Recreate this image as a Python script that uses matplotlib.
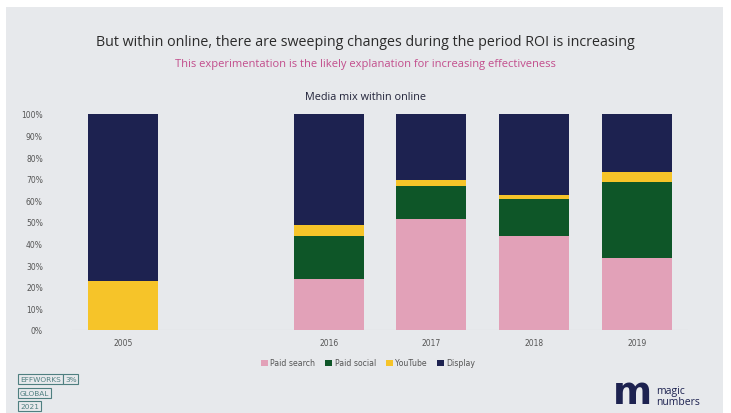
import numpy as np
import matplotlib.pyplot as plt
from matplotlib.patches import Rectangle

# Share of online spend by channel (%), per year
years = ["2005", "", "2016", "2017", "2018", "2019"]
paid_search = np.array([0, 0, 23.5, 51.5, 43.5, 33.5])
paid_social = np.array([0, 0, 20, 15, 17, 35])
youtube = np.array([22.5, 0, 5, 3, 2, 4.5])
display = np.array([77.5, 0, 51.5, 30.5, 37.5, 27])
has_bar = np.array([1, 0, 1, 1, 1, 1], dtype=bool)

series = [("Paid search", paid_search, "#e2a1b8"),
          ("Paid social", paid_social, "#0e5628"),
          ("YouTube", youtube, "#f6c429"),
          ("Display", display, "#1d2250")]

bg = "#e7e9ec"
fig = plt.figure(figsize=(7.31, 4.14), dpi=100, facecolor="white")
fig.patches.append(Rectangle((6 / 731, 0), 717 / 731, 1 - 8 / 414,
                             transform=fig.transFigure, facecolor=bg,
                             edgecolor="none", zorder=-10))

ax = fig.add_axes([72 / 731, 1 - 331 / 414, 616 / 731, 216 / 414])
ax.patch.set_alpha(0)

x = np.arange(len(years))
bottom = np.zeros(len(years))
for name, vals, color in series:
    ax.bar(x[has_bar], vals[has_bar], width=0.68, bottom=bottom[has_bar],
           color=color, label=name, zorder=3)
    bottom += vals

ax.set_xlim(-0.5, 5.5)
ax.set_ylim(0, 100)
ax.set_yticks(np.arange(0, 101, 10))
ax.set_yticklabels([f"{v}%" for v in range(0, 101, 10)])
ax.set_xticks(x[has_bar])
ax.set_xticklabels([y for y, b in zip(years, has_bar) if b])
ax.tick_params(axis="both", length=0, labelsize=5.5, colors="#555555")
ax.tick_params(axis="y", pad=21)
ax.tick_params(axis="x", pad=6)
for s in ax.spines.values():
    s.set_visible(False)
ax.axhline(0, color="#cfd2d6", lw=0.8, zorder=2)

fig.text(0.5, 1 - 42 / 414, "But within online, there are sweeping changes during the period ROI is increasing",
         ha="center", va="center", fontsize=10.3, color="#2b2b2b", family="Open Sans")
fig.text(0.5, 1 - 65 / 414, "This experimentation is the likely explanation for increasing effectiveness",
         ha="center", va="center", fontsize=8, color="#c24d8c", family="Open Sans")
fig.text(0.5, 1 - 97 / 414, "Media mix within online",
         ha="center", va="center", fontsize=7.8, color="#22243a", family="Open Sans")

handles, labels = ax.get_legend_handles_labels()
fig.legend(handles, labels, loc="center", bbox_to_anchor=(368 / 731, 1 - 364 / 414),
           ncol=4, frameon=False, fontsize=5.6, handlelength=0.9, handleheight=0.9,
           handletextpad=0.3, columnspacing=1.3, labelcolor="#555555")

# Badge, bottom left
badge = dict(boxstyle="square,pad=0.25", facecolor=bg, edgecolor="#4f7f80", lw=0.8)
fig.text(20 / 731, 1 - 380 / 414, "EFFWORKS", fontsize=5.3, color="#4f7f80",
         va="center", ha="left", bbox=badge)
fig.text(65 / 731, 1 - 380 / 414, "3%", fontsize=5.3, color="#4f7f80",
         va="center", ha="left", bbox=badge)
fig.text(20 / 731, 1 - 394 / 414, "GLOBAL", fontsize=5.3, color="#4f7f80",
         va="center", ha="left", bbox=badge)
fig.text(20 / 731, 1 - 407 / 414, "2021", fontsize=5.3, color="#4f7f80",
         va="center", ha="left", bbox=badge)

# Logo, bottom right
fig.text(652 / 731, 2 / 414, "m", fontsize=27, color="#1d2250",
         ha="right", va="bottom", fontweight="bold", family="DejaVu Sans")
fig.text(656 / 731, 1 - 397 / 414, "magic\nnumbers", fontsize=7.5, color="#1d2250",
         ha="left", va="center", linespacing=0.9, family="Open Sans")

fig.savefig("out.png", dpi=100, facecolor="white")
